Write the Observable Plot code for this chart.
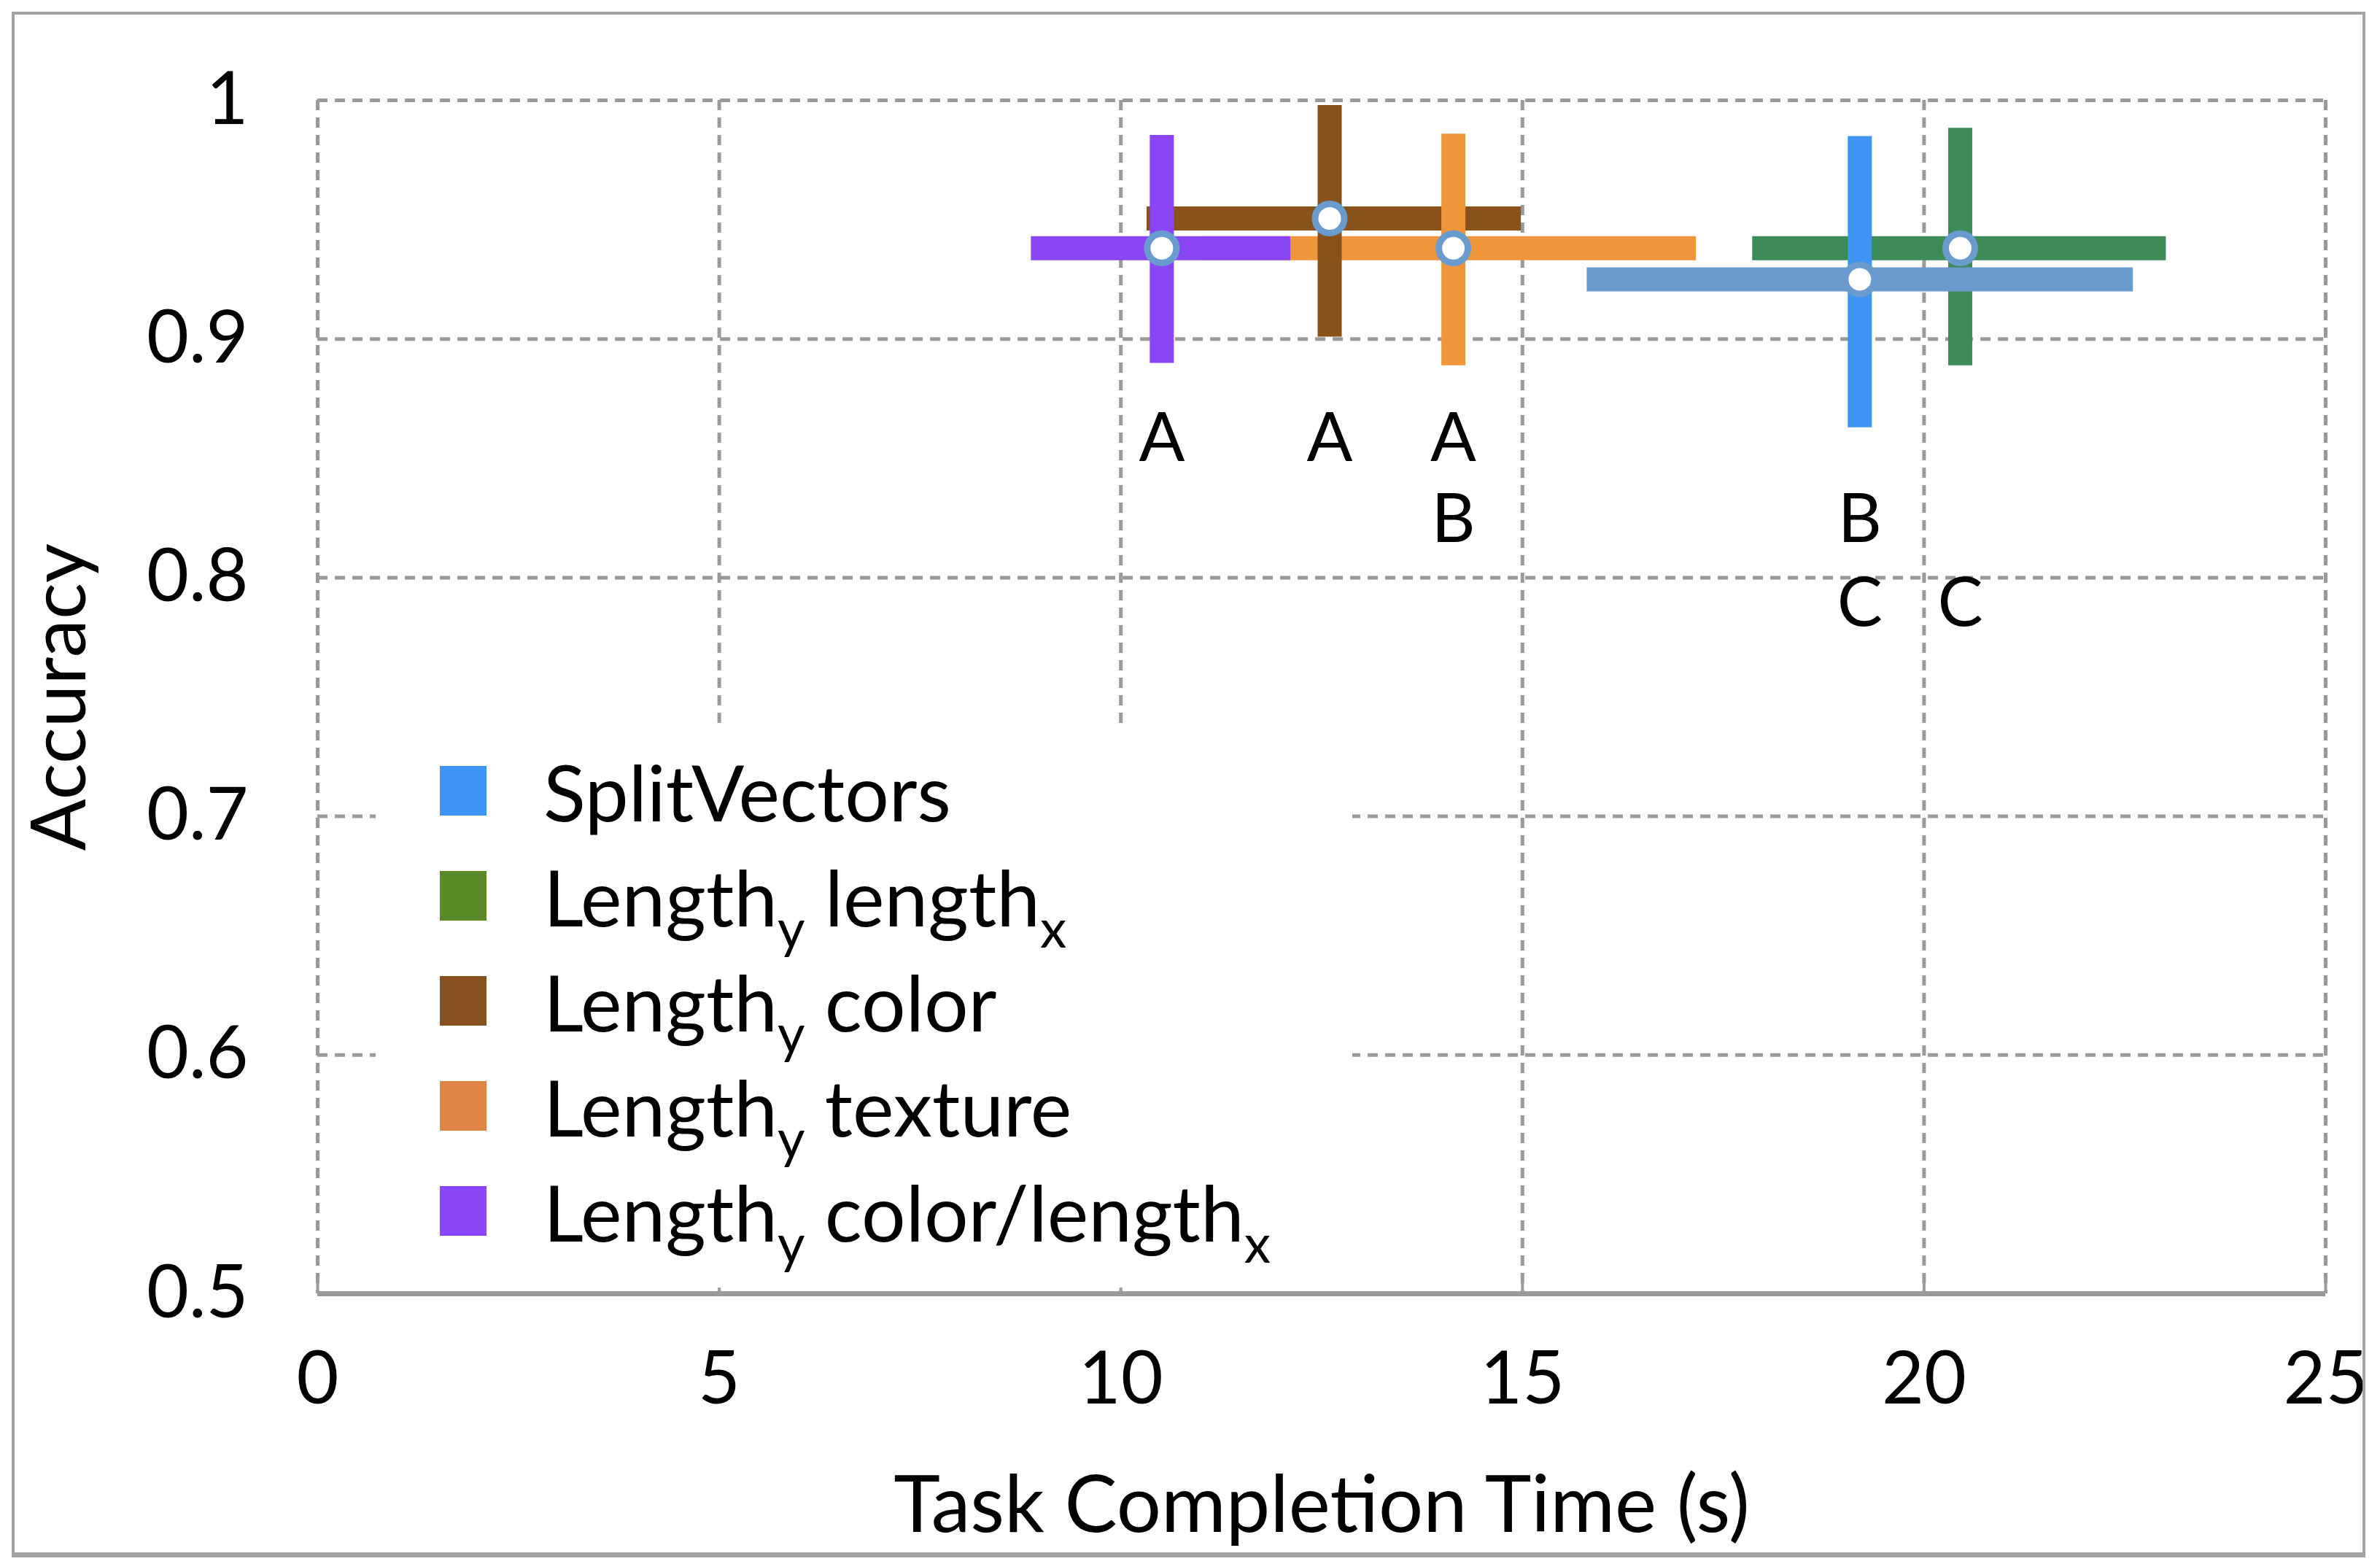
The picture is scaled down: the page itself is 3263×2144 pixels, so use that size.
<!DOCTYPE html>
<html>
<head>
<meta charset="utf-8">
<script src="https://cdn.jsdelivr.net/npm/d3@7"></script>
<script src="https://cdn.jsdelivr.net/npm/@observablehq/plot@0.6"></script>
<style>
  html, body { margin: 0; padding: 0; background: #fff; }
  #wrap { position: relative; width: 3263px; height: 2144px; font-family: Lato, "Open Sans", sans-serif; }
  #frame { position: absolute; left: 16px; top: 16px; width: 3227px; height: 2119px; box-sizing: border-box;
           border: 4px solid #a3a3a3; border-bottom-width: 7px; pointer-events: none; }
  #legend { position: absolute; left: 515px; top: 993px; width: 1339px; height: 772px; background: #fff;
            box-sizing: border-box; padding-top: 19px; }
  .row { display: flex; align-items: center; height: 144px; }
  .sw { width: 64px; height: 68px; margin-left: 88px; flex: none; }
  .lab { margin-left: 78px; font-size: 107px; line-height: 1; color: #000; white-space: nowrap; }
  .lab sub { font-size: 0.68em; position: relative; top: 0.4em; vertical-align: baseline; }
</style>
</head>
<body>
<div id="wrap"></div>
<script>
// ---- data ----
const seriesNames = ["SplitVectors", "Length_y length_x", "Length_y color", "Length_y texture", "Length_y color/length_x"];
const meanTime = [19.2, 20.45, 12.6, 14.14, 10.51];
const meanAcc  = [0.925, 0.938, 0.9505, 0.938, 0.938];
const timeLo   = [15.8, 17.86, 10.32, 11.03, 8.88];
const timeHi   = [22.6, 23.01, 14.98, 17.16, 12.11];
const accLo    = [0.863, 0.889, 0.901, 0.889, 0.890];
const accHi    = [0.985, 0.9885, 0.998, 0.986, 0.9855];
const vColors  = ["#3f95f4", "#3d8b57", "#8a521b", "#f0963a", "#8a45f5"];
const hColors  = ["#6a9bcf", "#3d8b57", "#8a521b", "#f0963a", "#8a45f5"];
const legendColors = ["#3f95f4", "#5d8b2a", "#87521d", "#e08446", "#8a45f5"];
const groupLetters = [["B", "C"], ["C"], ["A"], ["A", "B"], ["A"]];
const letterRowAcc = {A: 0.858, B: 0.824, C: 0.789};
const xTicks = [0, 5, 10, 15, 20, 25];
const yTicks = [0.5, 0.6, 0.7, 0.8, 0.9, 1];
// drawing order of the error bars: [series index, "h" | "v"]
const drawOrder = [[3,"h"],[1,"h"],[1,"v"],[2,"h"],[3,"v"],[2,"v"],[0,"h"],[0,"v"],[4,"h"],[4,"v"]];

// ---- derived tables ----
const points = seriesNames.map((name, i) => ({name, t: meanTime[i], a: meanAcc[i]}));
const segments = drawOrder.map(([i, k]) => k === "h"
  ? {x1: timeLo[i], x2: timeHi[i], y1: meanAcc[i], y2: meanAcc[i], color: hColors[i]}
  : {x1: meanTime[i], x2: meanTime[i], y1: accLo[i], y2: accHi[i], color: vColors[i]});
const letters = [];
groupLetters.forEach((ls, i) => ls.forEach(l => letters.push({t: meanTime[i], a: letterRowAcc[l], l})));

const grid = {stroke: "#9a9a9a", strokeWidth: 5, strokeDasharray: "14,10", strokeOpacity: 1};

const chart = Plot.plot({
  width: 3263,
  height: 2144,
  marginLeft: 435,
  marginRight: 75,
  marginTop: 137,
  marginBottom: 371,
  style: {fontFamily: "Lato, 'Open Sans', sans-serif", fontSize: "100px", color: "#000", background: "transparent"},
  x: {domain: [0, 25]},
  y: {domain: [0.5, 1]},
  marks: [
    Plot.ruleX(xTicks, grid),
    Plot.ruleY(yTicks.filter(v => v > 0.5), grid),
    Plot.ruleY([0.5], {stroke: "#9a9a9a", strokeWidth: 7}),
    Plot.ruleX(xTicks, {y1: 0.5, y2: 0.5, insetTop: -16, stroke: "#9a9a9a", strokeWidth: 4}),
    Plot.axisX(xTicks, {tickSize: 0, tickPadding: 79, label: null, fontSize: 100, tickFormat: d => `${d}`}),
    Plot.axisY(yTicks, {tickSize: 0, tickPadding: 95, label: null, fontSize: 100, tickFormat: d => `${d}`}),
    Plot.link(segments, {x1: "x1", y1: "y1", x2: "x2", y2: "y2", stroke: "color", strokeWidth: 33, strokeLinecap: "butt", curve: "linear"}),
    Plot.dot(points, {x: "t", y: "a", r: 20, fill: "white", stroke: "#6a9bcf", strokeWidth: 9}),
    Plot.text(letters, {x: "t", y: "a", text: "l", fontSize: 93, fill: "#000"}),
    Plot.text(["Task Completion Time (s)"], {frameAnchor: "bottom", dy: 326, fontSize: 108, fill: "#000"}),
    Plot.text(["Accuracy"], {frameAnchor: "left", textAnchor: "middle", dx: -352, rotate: -90, fontSize: 105, fill: "#000"})
  ]
});

const wrap = document.getElementById("wrap");
wrap.appendChild(chart);

// legend (drawn over the plot area, hiding the grid behind it)
const legend = document.createElement("div");
legend.id = "legend";
const fmt = s => s.replace(/_([a-z])/g, "<sub>$1</sub>");
seriesNames.forEach((name, i) => {
  const row = document.createElement("div");
  row.className = "row";
  row.innerHTML = `<div class="sw" style="background:${legendColors[i]}"></div><div class="lab">${fmt(name)}</div>`;
  legend.appendChild(row);
});
wrap.appendChild(legend);

const frame = document.createElement("div");
frame.id = "frame";
wrap.appendChild(frame);
</script>
</body>
</html>
